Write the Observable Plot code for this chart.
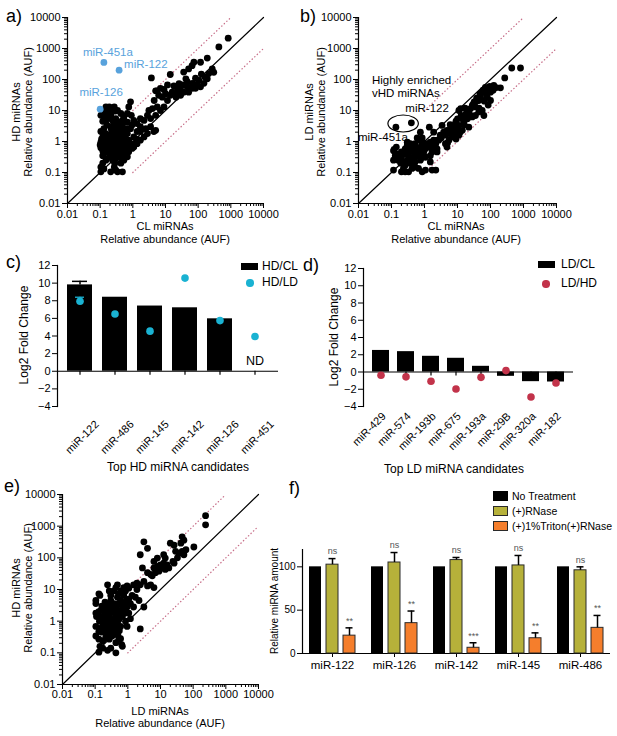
<!DOCTYPE html>
<html><head><meta charset="utf-8">
<script src="https://cdn.jsdelivr.net/npm/d3@7"></script>
<script src="https://cdn.jsdelivr.net/npm/@observablehq/plot@0.6"></script>
<style>
body{margin:0;background:#fff;}
#root{position:relative;width:617px;height:736px;overflow:hidden;background:#fff;}
</style></head><body><div id="root"></div>
<script>
// ---------------- DATA ----------------
const decadeTicks = [0.01, 0.1, 1, 10, 100, 1000, 10000];
const decadeLabels = ["0.01", "0.1", "1", "10", "100", "1000", "10000"];
const logDomain = [0.01, 10000];
const diagLine = [[0.01, 0.01], [10000, 10000]];
const upperLine = [[1, 10], [1000, 10000]];
const lowerLine = [[1, 0.1], [10000, 1000]];

// a) CL (x) vs HD (y)
const scatterA = [[830,2150],[430,1120],[190,490],[270,220],[118,360],[74,360],[65,280],[51,220],[36,173],[14,145],[125,150],[160,120],[210,155],[105,93],[83,110],[66,75],[46,85],[46,58],[33,67],[29,46],[23,52],[18,62],[11.5,67],[9,48],[7,52],[5.5,43],[6.2,31],[8,27],[11.5,21],[14,31],[21,27],[29,31],[36,39],[51,39],[66,52],[94,67],[118,58],[150,75],[190,105],[300,170],[42,105],[23,35],[16,39],[10,35],[26,73],[83,52],
[3.7,112],[5,43],[4.5,21],[4,11.5],[3.1,10],[5.6,13],[7,10],[9,13],[5,7],[3.5,5.5],[2.8,7],[2.2,4.8],[1.7,5.5],[1.35,3.8],[1.7,3],[2.5,2.6],[3.5,3],[4.4,2.1],[5,2.3],[2.8,1.8],[2.2,1.4],[1.7,1.1],[1.35,0.85],[1.07,0.66],
[0.85,19],[0.75,13],[0.68,8],[0.9,7],[1.07,4.8],[0.95,3.4],[0.68,4.2],[0.53,6],[0.43,8],[0.34,10],[0.27,13],[0.19,13],[0.15,13],[0.13,7],[0.105,7],[0.16,7],[0.21,7],[0.3,5.5],[0.38,4.2],[0.48,4.8],[0.43,3],[0.34,3.4],[0.27,3.8],[0.21,3],[0.16,3.4],[0.13,2.6],
[0.105,2.1],[0.12,1.4],[0.105,0.95],[0.1,0.77],[0.105,0.63],[0.12,0.5],[0.13,0.85],[0.15,0.66],[0.16,1.1],[0.19,0.85],[0.21,0.66],[0.24,0.95],[0.27,0.77],[0.3,0.63],[0.34,0.95],[0.38,1.4],[0.43,1.1],[0.48,0.85],[0.53,0.66],[0.6,1.2],[0.68,1.8],[0.75,1.1],[0.85,0.85],[0.53,2.1],[0.43,1.8],[0.3,1.8],[0.24,2.1],[0.19,1.6],[0.15,1.8],[0.34,2.3],[0.27,1.4],[0.21,1.2],[0.13,1.1],[0.16,0.52],[0.21,0.42],[0.27,0.47],[0.34,0.42],[0.43,0.52],[0.38,0.32],[0.3,0.28],[0.24,0.25],[0.19,0.32],[0.15,0.25],[0.12,0.2],[0.105,0.15],[0.105,0.105],[0.13,0.13],[0.21,0.105],[0.3,0.12],[0.34,0.105],[0.48,0.105],[0.27,0.15],[0.43,0.2],[0.53,0.25],[0.68,0.32],[0.6,0.42],[0.75,0.47],[0.95,0.6],[1.2,0.85],[1.35,1.2],[1.07,1.4],[0.85,2.6],[1.35,2.1],[1.7,2.1],[0.68,2.6],[0.48,3.4],
[0.11,1.2],[0.14,1.5],[0.17,1.3],[0.2,0.95],[0.23,1.1],[0.26,1.2],[0.29,0.9],[0.32,1.1],[0.36,0.75],[0.4,0.65],[0.45,0.7],[0.5,1],[0.55,0.9],[0.62,0.8],[0.7,0.6],[0.8,0.7],[0.12,0.35],[0.14,0.45],[0.18,0.55],[0.22,0.55],[0.25,0.35],[0.28,0.2],[0.32,0.35],[0.4,0.4],[0.46,0.3],[0.22,2.5],[0.28,2.8],[0.36,2],[0.46,2.6],[0.58,1.5],[0.12,4.5],[0.15,5],[0.2,5.5],[0.25,4.5],[0.22,9],[0.28,9.5],[0.12,9],[0.18,10]];
const highlightA = [
  {name: "miR-451a", cl: 0.13, hd: 355},
  {name: "miR-122", cl: 0.38, hd: 200},
  {name: "miR-126", cl: 0.1, hd: 11}
];

// b) CL (x) vs LD (y)
const scatterB = [[810,235],[440,235],[270,112],[200,54],[126,64],[100,39],[112,50],[90,50],[80,44],[70,56],[80,27],[100,21],[56,39],[50,27],[44,21],[56,10],[63,6.9],[35,13],[40,21],[32,19],[28,14.5],[25,11.5],[22,9],[28,6.2],[35,6.9],[44,9],[12.5,11.5],[11,10],[18,7.8],[14,5.4],[10,5.4],[8.7,3.7],[11,3.3],[15.5,4.2],[20,5.4],[22,2.9],[14,2.3],[10,2.6],[7.8,2.9],[6.2,2.6],[7,2],[5.5,1.8],[4.8,2.3],[4.3,1.6],[5.5,1.1],[4.3,0.85],[4.8,0.66],[3.4,3.3],[3.8,2],[8.7,1.8],[11,1.6],[7,1.4],[2.4,1.1],[2.2,0.85],[1.9,0.66],[2.4,0.58],[1.7,0.46],[1.4,2.9],[1.5,0.22],[1.7,0.12],[2.2,0.12],[1.07,0.12],[0.85,0.105],[0.66,0.135],[0.52,0.15],[0.42,0.135],[0.33,0.105],[0.26,0.105],[0.23,0.135],[0.2,0.105],[0.115,0.12],[0.115,0.25],[0.13,0.35],[0.115,0.5],[0.12,0.56],[0.16,0.25],[0.2,0.31],[0.26,0.4],[0.33,0.5],[0.42,0.66],[0.52,0.85],[0.66,1.1],[0.85,0.95],[0.75,0.66],[0.95,0.75],[1.07,0.58],[1.2,0.85],[1.35,0.66],[1.5,0.95],[1.7,0.75],[1.9,1.1],[0.95,0.46],[0.75,0.4],[0.6,0.35],[0.47,0.31],[0.37,0.28],[0.3,0.25],[0.23,0.22],[0.19,0.2],[0.26,0.17],[0.37,0.2],[0.52,0.22],[0.75,0.25],[1.07,0.31],[1.5,0.35],[0.85,0.31],[0.66,0.5],[0.47,0.46],[0.33,0.35],[0.26,0.58],[0.2,0.46],[0.16,0.4],[0.3,0.75],[0.37,0.85],[0.6,0.58],[0.3,0.95],[0.14,0.66],[0.6,1.3],[0.85,1.3],[0.75,2],[1.9,2],[2.7,1.1],[3,1.6],[2.4,0.46],
[3.2,1.3],[6,3.5],[9,4.5],[13,7],[17,12],[20,10],[30,16],[38,25],[48,34],[60,45],[75,33],[95,60],[120,45],[150,55],[65,20],[85,15],[45,12],[25,7],[16,3.5],[12,2],[9,1.2],[5,0.9]];
const highlightB = [
  {name: "miR-451a", cl: 0.136, ld: 2.9},
  {name: "miR-122", cl: 0.4, ld: 4.0}
];

// e) LD (x) vs HD (y)
const scatterE = [[240,2140],[240,1100],[105,220],[46,460],[52,360],[42,290],[29,160],[26,250],[20,290],[46,160],[60,180],[52,125],[33,100],[24,77],[16,60],[14,98],[12.5,68],[11,48],[10,60],[8,54],[9,38],[6.3,48],[7,34],[5,30],[5.6,27],[4,34],[2.8,48],[6.3,77],[8,98],[18,48],[14,43],[26,68],[37,140],[12.5,125],[3.1,320],[4,200],[2.4,125],[3.1,18],[2.4,14],[1.9,16],[1.5,14],[4,13],[5,14],[6.3,11.5],[3.1,2.8],[2.4,0.57],[2.2,4.5],[1.7,5.7],[1.35,6.5],[1.2,3.6],[0.95,2.8],[1.07,5],[0.85,9],[0.75,11.5],[0.75,6.5],[0.6,4.5],[0.53,7.3],[0.48,5.7],[0.38,3.6],[0.33,2.8],[0.27,3.2],[0.24,2.5],[0.2,2.8],[0.15,2.2],[0.13,2],[0.105,1.8],[0.11,1.4],[0.15,1.4],[0.2,1.8],[0.24,1.4],[0.3,1.8],[0.38,2],[0.48,2.2],[0.43,1.4],[0.33,1.1],[0.27,1],[0.21,0.87],[0.17,0.87],[0.135,1],[0.105,0.68],[0.13,0.48],[0.15,0.6],[0.2,0.54],[0.24,0.68],[0.3,0.54],[0.38,0.68],[0.48,0.87],[0.53,1.1],[0.6,0.68],[0.68,1.4],[0.85,1],[0.95,0.68],[0.43,0.43],[0.33,0.34],[0.27,0.27],[0.21,0.3],[0.17,0.24],[0.13,0.27],[0.105,0.34],[0.14,0.16],[0.13,0.105],[0.17,0.14],[0.24,0.12],[0.3,0.14],[0.43,0.1],[0.43,0.21],[0.53,0.27],[0.68,0.16],[0.65,0.18],[0.105,4.5],[0.105,3.6],[0.13,7.3],[0.14,6.5],[0.24,14],[0.27,9],[0.3,6.5],[0.38,9],[0.43,11.5],[0.48,14],[0.68,2.8],[0.53,3.6],[0.85,1.8],[1.07,1.8],[1.2,1.2],[1.5,2.8],[1.9,10],[1.07,11],[0.95,13],
[0.18,1.2],[0.22,1.1],[0.28,1.25],[0.35,0.9],[0.4,1.2],[0.25,0.8],[0.32,0.75],[0.45,0.6],[0.55,0.5],[0.19,0.65],[0.16,0.45],[0.23,0.42],[0.28,0.6],[0.36,0.5],[0.5,0.35],[0.6,0.28],[0.2,2.2],[0.35,2.5],[0.45,2.9],[0.57,1.8],[0.7,2],[0.8,3.5],[0.9,4.5],[0.62,9],[0.3,4.5],[0.2,4],[0.16,3]];

// c) Top HD candidates (log2 fold change)
const hdCats = ["miR-122", "miR-486", "miR-145", "miR-142", "miR-126", "miR-451"];
const hdclVals = [9.8, 8.4, 7.4, 7.2, 5.95, null];
const hdclErrs = [0.4, 0, 0, 0, 0, 0];
const hdldVals = [7.95, 6.5, 4.55, 10.57, 5.75, 3.94];
const hdldErrs = [0.45, 0, 0, 0, 0, 0];
const fcTicks = [-4, -2, 0, 2, 4, 6, 8, 10, 12];

// d) Top LD candidates
const ldCats = ["miR-429", "miR-574", "miR-193b", "miR-675", "miR-193a", "miR-29B", "miR-320a", "miR-182"];
const ldclVals = [2.5, 2.36, 1.82, 1.59, 0.66, -0.5, -1.12, -1.16];
const ldhdVals = [-0.37, -0.56, -1.08, -1.97, -0.62, 0.16, -2.9, -1.28];

// f) RNase protection
const groupsF = ["miR-122", "miR-126", "miR-142", "miR-145", "miR-486"];
const treatments = ["No Treatment", "(+)RNase", "(+)1%Triton(+)RNase"];
const noTreatVals = [100, 100, 100, 100, 100];
const rnaseVals = [102.5, 105, 107.8, 101.6, 96];
const rnaseErrs = [7, 11.5, 3, 11.5, 4];
const tritonVals = [20.6, 35, 6.6, 17.6, 29.6];
const tritonErrs = [9, 14, 5.8, 6.2, 14.3];
const rnaseSig = ["ns", "ns", "ns", "ns", "ns"];
const tritonSig = ["**", "**", "***", "**", "**"];
const fTicks = [0, 50, 100];

// ---------------- STYLE ----------------
const FONT = "'Liberation Sans', Arial, Helvetica, sans-serif";
const BLUE = "#58a2dc", CYAN = "#1ab2d2", RED = "#c2334a", DOTLINE = "#c8708a";
const OLIVE = "#b6b13a", ORANGE = "#f57e2c";
const root = document.getElementById("root");
const baseStyle = (fs = "11px") => ({fontFamily: FONT, fontSize: fs, color: "#000", background: "transparent", overflow: "visible", maxWidth: "none"});
const minorTicks = decadeTicks.slice(0, -1).flatMap(d => [2, 3, 4, 5, 6, 7, 8, 9].map(k => k * d));
const fmtLog = d => decadeLabels[decadeTicks.indexOf(d)] ?? "";

function put(svg, left, top, w, h) {
  const wrap = document.createElement("div");
  wrap.style.cssText = `position:absolute;left:${left}px;top:${top}px;width:${w}px;height:${h}px;`;
  wrap.appendChild(svg);
  root.appendChild(wrap);
}
function txt(html, x, y, {size = 11, mode = "center", color = "#000", lh = 1.15} = {}) {
  const d = document.createElement("div");
  d.innerHTML = html;
  const tf = mode === "rot" ? "translate(-50%,-50%) rotate(-90deg)" : mode === "left" ? "translate(0,-50%)" : mode === "tl" ? "none" : "translate(-50%,-50%)";
  d.style.cssText = `position:absolute;left:${x}px;top:${y}px;font-size:${size}px;line-height:${lh};color:${color};white-space:nowrap;text-align:${mode === "left" || mode === "tl" ? "left" : "center"};transform:${tf};font-family:${FONT};`;
  root.appendChild(d);
}
function swatch(x, y, w, h, fill, stroke, round) {
  const d = document.createElement("div");
  d.style.cssText = `position:absolute;left:${x}px;top:${y}px;width:${w}px;height:${h}px;background:${fill};box-sizing:border-box;${stroke ? `border:1px solid ${stroke};` : ""}${round ? "border-radius:50%;" : ""}`;
  root.appendChild(d);
}

function scatter(points, o) {
  return Plot.plot({
    width: o.w, height: o.h, marginLeft: o.ml, marginRight: o.mr, marginTop: o.mt, marginBottom: o.mb,
    style: baseStyle("11px"),
    x: {type: "log", domain: logDomain},
    y: {type: "log", domain: logDomain},
    marks: [
      Plot.line(lowerLine, {x: d => d[0], y: d => d[1], stroke: DOTLINE, strokeWidth: 1.3, strokeDasharray: "0.3,3.2", strokeLinecap: "round"}),
      Plot.line(upperLine, {x: d => d[0], y: d => d[1], stroke: DOTLINE, strokeWidth: 1.3, strokeDasharray: "0.3,3.2", strokeLinecap: "round"}),
      Plot.line(diagLine, {x: d => d[0], y: d => d[1], stroke: "#000", strokeWidth: 1.2}),
      Plot.dot(points, {x: d => d[0], y: d => d[1], r: 3.4, fill: "#000"}),
      ...(o.extra || []),
      Plot.ruleX([logDomain[0]], {strokeWidth: 1.2}),
      Plot.ruleY([logDomain[0]], {strokeWidth: 1.2}),
      Plot.axisX({ticks: minorTicks, tickSize: 3, tickFormat: () => "", label: null}),
      Plot.axisX({ticks: decadeTicks, tickSize: 5, tickPadding: o.tp ?? 2, tickFormat: fmtLog, label: null}),
      Plot.axisY({ticks: minorTicks, tickSize: 3, tickFormat: () => "", label: null}),
      Plot.axisY({ticks: decadeTicks, tickSize: 5, tickPadding: 2, tickFormat: fmtLog, label: null})
    ]
  });
}

// ---------------- PANEL a ----------------
const labA = (i, dx, dy, anchor) => Plot.text([highlightA[i]], {x: "cl", y: "hd", text: "name", fill: BLUE, dx, dy, textAnchor: anchor, fontSize: 11.5});
const plotA = scatter(scatterA, {w: 305, h: 250, ml: 67, mr: 42, mt: 17, mb: 47, extra: [
  Plot.dot(highlightA, {x: "cl", y: "hd", r: 3.4, fill: BLUE}),
  labA(0, 4, -10, "middle"), labA(1, 5, -6, "start"), labA(2, 1, -17, "middle")
]});
put(plotA, 0, 0, 305, 250);

// ---------------- PANEL b ----------------
const labB = (i, dx, dy, anchor) => Plot.text([highlightB[i]], {x: "cl", y: "ld", text: "name", fill: "#000", dx, dy, textAnchor: anchor, fontSize: 11.5});
const plotB = scatter(scatterB, {w: 312, h: 250, ml: 53, mr: 61, mt: 17, mb: 47, extra: [
  Plot.dot(highlightB, {x: "cl", y: "ld", r: 3.4, fill: "#000"}),
  labB(0, -13, 10, "middle"), labB(1, -6, -15, "start"),
  Plot.text([highlightB[0]], {x: "cl", y: "ld", text: () => "Highly enriched\nvHD miRNAs", textAnchor: "start", lineAnchor: "middle", lineHeight: 1.1, dx: -24, dy: -41, fontSize: 11.5})
]});
{
  const sx = plotB.scale("x"), sy = plotB.scale("y");
  const px = highlightB.map(d => [sx.apply(d.cl), sy.apply(d.ld)]);
  d3.select(plotB).append("ellipse")
    .attr("cx", (px[0][0] + px[1][0]) / 2).attr("cy", (px[0][1] + px[1][1]) / 2 - 1)
    .attr("rx", Math.abs(px[1][0] - px[0][0]) / 2 + 7.5).attr("ry", 8.5)
    .attr("fill", "none").attr("stroke", "#000").attr("stroke-width", 1.2);
}
put(plotB, 305, 0, 312, 250);

// ---------------- PANEL e ----------------
const plotE = scatter(scatterE, {w: 305, h: 256, ml: 62, mr: 47, mt: 14, mb: 52, tp: 1});
put(plotE, 0, 480, 305, 256);

// ---------------- PANEL c ----------------
const rowsC = hdCats.map((m, i) => ({mir: m, hdcl: hdclVals[i], hdclErr: hdclErrs[i], hdld: hdldVals[i], hdldErr: hdldErrs[i]}));
const plotC = Plot.plot({
  width: 305, height: 235, marginLeft: 57, marginRight: 27, marginTop: 20, marginBottom: 74,
  style: baseStyle("11px"),
  x: {domain: hdCats, paddingInner: 0.3, paddingOuter: 0.15, insetLeft: 4.4, insetRight: 5.4},
  y: {domain: [-4, 12]},
  marks: [
    Plot.barY(rowsC.filter(d => d.hdcl != null), {x: "mir", y: "hdcl", fill: "#000"}),
    Plot.ruleX(rowsC.filter(d => d.hdclErr), {x: "mir", y1: "hdcl", y2: d => d.hdcl + d.hdclErr, strokeWidth: 1.5}),
    Plot.tickY(rowsC.filter(d => d.hdclErr), {x: "mir", y: d => d.hdcl + d.hdclErr, strokeWidth: 1.5, insetLeft: 5, insetRight: 5}),
    Plot.ruleY([0], {strokeWidth: 1.2}),
    Plot.ruleX(hdCats, {x: d => d, y1: 0, y2: 0, insetBottom: -4, strokeWidth: 1.2}),
    Plot.frame({anchor: "left", strokeWidth: 1.2}),
    Plot.ruleX(rowsC.filter(d => d.hdldErr), {x: "mir", y1: "hdld", y2: d => d.hdld + d.hdldErr, stroke: CYAN, strokeWidth: 1.3}),
    Plot.tickY(rowsC.filter(d => d.hdldErr), {x: "mir", y: d => d.hdld + d.hdldErr, stroke: CYAN, strokeWidth: 1.3, insetLeft: 8, insetRight: 8}),
    Plot.dot(rowsC, {x: "mir", y: "hdld", r: 3.8, fill: CYAN}),
    Plot.text(rowsC.filter(d => d.hdcl == null), {x: "mir", y: 0, text: () => "ND", dy: -10, fontSize: 12.5}),
    Plot.axisY({ticks: fcTicks, tickSize: 5, tickPadding: 2, label: null}),
    Plot.axisX({tickSize: 0, tickRotate: -45, tickPadding: 16, dx: 17, label: null})
  ]
});
put(plotC, 0, 245, 305, 235);

// ---------------- PANEL d ----------------
const rowsD = ldCats.map((m, i) => ({mir: m, ldcl: ldclVals[i], ldhd: ldhdVals[i]}));
const plotD = Plot.plot({
  width: 312, height: 235, marginLeft: 58, marginRight: 44, marginTop: 23, marginBottom: 74,
  style: baseStyle("11px"),
  x: {domain: ldCats, paddingInner: 0.32, paddingOuter: 0.16, insetLeft: 4.3, insetRight: 3.4},
  y: {domain: [-4, 12]},
  marks: [
    Plot.barY(rowsD, {x: "mir", y: "ldcl", fill: "#000"}),
    Plot.ruleY([0], {strokeWidth: 1.2}),
    Plot.ruleX(ldCats, {x: d => d, y1: 0, y2: 0, insetBottom: -4, strokeWidth: 1.2}),
    Plot.frame({anchor: "left", strokeWidth: 1.2}),
    Plot.dot(rowsD, {x: "mir", y: "ldhd", r: 3.8, fill: RED}),
    Plot.axisY({ticks: fcTicks, tickSize: 5, tickPadding: 2, label: null}),
    Plot.axisX({tickSize: 0, tickRotate: -45, tickPadding: 8, dx: 3, label: null})
  ]
});
put(plotD, 305, 245, 312, 235);

// ---------------- PANEL f ----------------
const rowsF = [];
groupsF.forEach((g, i) => {
  rowsF.push({mir: g, treat: treatments[0], value: noTreatVals[i], err: 0, sig: ""});
  rowsF.push({mir: g, treat: treatments[1], value: rnaseVals[i], err: rnaseErrs[i], sig: rnaseSig[i]});
  rowsF.push({mir: g, treat: treatments[2], value: tritonVals[i], err: tritonErrs[i], sig: tritonSig[i]});
});
const fDims = {width: 367, height: 256, marginLeft: 52, marginRight: 7, marginTop: 69, marginBottom: 83};
const plotFBase = Plot.plot({
  ...fDims, style: baseStyle("10px"),
  x: {domain: [0, 1], axis: null},
  y: {domain: [0, 120]},
  marks: [
    Plot.ruleY([0], {strokeWidth: 1.2}),
    Plot.ruleX([0], {strokeWidth: 1.2}),
    Plot.axisY({ticks: fTicks, tickSize: 5, tickPadding: 2, label: null})
  ]
});
put(plotFBase, 250, 480, 367, 256);
const fillOf = {"No Treatment": "#000", "(+)RNase": OLIVE, "(+)1%Triton(+)RNase": ORANGE};
const withErr = rowsF.filter(d => d.err > 0);
const plotF = Plot.plot({
  ...fDims, style: baseStyle("11.5px"),
  fx: {domain: groupsF, paddingInner: 0.26, paddingOuter: 0.095, label: null, axis: "bottom", tickSize: 4, tickPadding: 3},
  x: {domain: treatments, paddingInner: 0.3, paddingOuter: 0, axis: null},
  y: {domain: [0, 120], axis: null},
  marks: [
    ...treatments.map(t => Plot.barY(rowsF.filter(d => d.treat === t), {fx: "mir", x: "treat", y: "value", fill: fillOf[t], stroke: t === treatments[0] ? null : "#2a2a2a", strokeWidth: 1})),
    Plot.ruleX(withErr, {fx: "mir", x: "treat", y1: "value", y2: d => d.value + d.err, strokeWidth: 1.5}),
    Plot.tickY(withErr, {fx: "mir", x: "treat", y: d => d.value + d.err, strokeWidth: 1.5, insetLeft: 2.5, insetRight: 2.5}),
    Plot.text(withErr, {fx: "mir", x: "treat", y: d => d.value + d.err, text: "sig", dy: -7, fontSize: 9, fill: "#555"})
  ]
});
put(plotF, 250, 480, 367, 256);

// ---------------- HTML TEXT ----------------
// panel letters
txt("a)", 6, 6, {size: 18, mode: "tl"});
txt("b)", 300, 6, {size: 18, mode: "tl"});
txt("c)", 6, 252, {size: 18, mode: "tl"});
txt("d)", 303, 255, {size: 18, mode: "tl"});
txt("e)", 4, 476, {size: 18, mode: "tl"});
txt("f)", 289, 478, {size: 18, mode: "tl"});
// a
txt("HD miRNAs<br>Relative abundance (AUF)", 22, 112, {size: 11, mode: "rot", lh: 1.12});
txt("CL miRNAs<br>Relative abundance (AUF)", 165, 233, {size: 11, lh: 1.2});
// b
txt("LD miRNAs<br>Relative abundance (AUF)", 315, 112, {size: 11, mode: "rot", lh: 1.12});
txt("CL miRNAs<br>Relative abundance (AUF)", 456, 233, {size: 11, lh: 1.2});
// e
txt("HD miRNAs<br>Relative abundance (AUF)", 22, 588, {size: 11, mode: "rot", lh: 1.12});
txt("LD miRNAs<br>Relative abundance (AUF)", 160, 718, {size: 11, lh: 1.08});
// c
txt("Log2 Fold Change", 25, 335, {size: 12, mode: "rot"});
txt("Top HD miRNA candidates", 178, 468, {size: 12});
swatch(241, 263, 17, 7, "#000");
txt("HD/CL", 262, 266.5, {size: 12, mode: "left"});
swatch(246.3, 279.3, 7.4, 7.4, CYAN, null, true);
txt("HD/LD", 262, 283, {size: 12, mode: "left"});
// d
txt("Log2 Fold Change", 335, 337, {size: 12, mode: "rot"});
txt("Top LD miRNA candidates", 454, 470, {size: 12});
swatch(538, 261, 17, 7, "#000");
txt("LD/CL", 561, 265, {size: 12, mode: "left"});
swatch(542.3, 280.3, 7.4, 7.4, RED, null, true);
txt("LD/HD", 561, 284, {size: 12, mode: "left"});
// f
txt("Relative miRNA amount", 275, 601, {size: 10, mode: "rot"});
swatch(493, 491, 15, 10, "#000");
txt("No Treatment", 512, 496, {size: 10.5, mode: "left"});
swatch(493, 506, 15, 10, OLIVE, "#2a2a2a");
txt("(+)RNase", 512, 511, {size: 10.5, mode: "left"});
swatch(493, 521, 15, 10, ORANGE, "#2a2a2a");
txt("(+)1%Triton(+)RNase", 512, 526, {size: 10.5, mode: "left"});
</script></body></html>
